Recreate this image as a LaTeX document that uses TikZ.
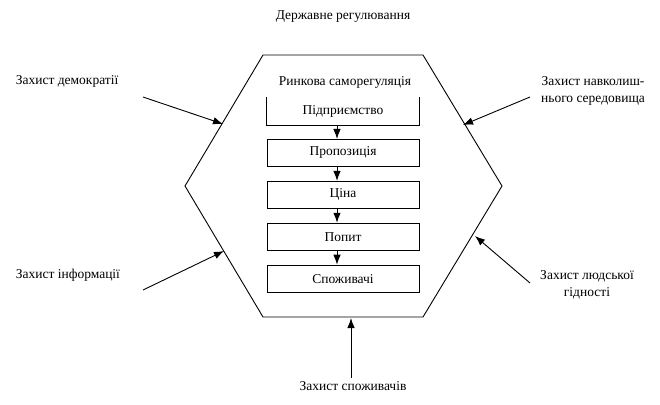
\documentclass[tikz,border=0pt]{standalone}
\usepackage{fontspec}
\setmainfont{Liberation Serif}
\usetikzlibrary{positioning, arrows.meta}
\tikzset{>={Latex[length=10pt, width=7.5pt]}}
\tikzset{stage/.style={minimum width=152pt, minimum height=27pt, inner sep=0pt},
         boxed/.style={stage, draw}}

\begin{document}
\begin{tikzpicture}[x=1pt, y=-1pt, line width=.9pt, font=\fontsize{13.5}{17}\selectfont]
    \useasboundingbox(0, 0)rectangle(660, 404);
    \draw(263, 55)--(423, 55)--(502, 186)--(423, 317)--(263, 317)--(185, 186)--cycle;
    \coordinate(hul) at (223, 124);
    \coordinate(hll) at (224, 251);
    \coordinate(hur) at (463, 125);
    \coordinate(hlr) at (475, 236);
    \coordinate(hb) at (351, 318);
    \node(title) at (343, 17){Державне регулювання};
    \node(market) at (345, 82){Ринкова саморегуляція};
    \node[stage](b1) at (343, 111){Підприємство};
    \draw(b1.north west)--(b1.south west)--(b1.south east)--(b1.north east);
    \node[boxed, below=14pt of b1](b2){Пропозиція};
    \node[boxed, below=14pt of b2](b3){Ціна};
    \node[boxed, below=14pt of b3](b4){Попит};
    \node[boxed, below=14pt of b4](b5){Споживачі};
    \foreach \a/\b in {b1/b2, b2/b3, b3/b4, b4/b5}
        \draw[->]([xshift=-6pt]\a.south)--([xshift=-6pt]\b.north);
    \node[anchor=west](dem) at (12, 81){Захист демократії};
    \node[anchor=west](inf) at (12, 275){Захист інформації};
    \node[align=center](env) at (593, 91){Захист навколиш-\\нього середовища};
    \node[align=center](hum) at (587, 285){Захист людської\\гідності};
    \node(cons) at (353, 386){Захист споживачів};
    \coordinate(dems) at (143, 97);
    \coordinate(infs) at (143, 290);
    \coordinate(envs) at (530, 97);
    \coordinate(hums) at (530, 283);
    \draw[->](dems)--(hul);
    \draw[->](infs)--(hll);
    \draw[->](envs)--(hur);
    \draw[->](hums)--(hlr);
    \draw[->](hb |- cons.north)--(hb);
\end{tikzpicture}
\end{document}
